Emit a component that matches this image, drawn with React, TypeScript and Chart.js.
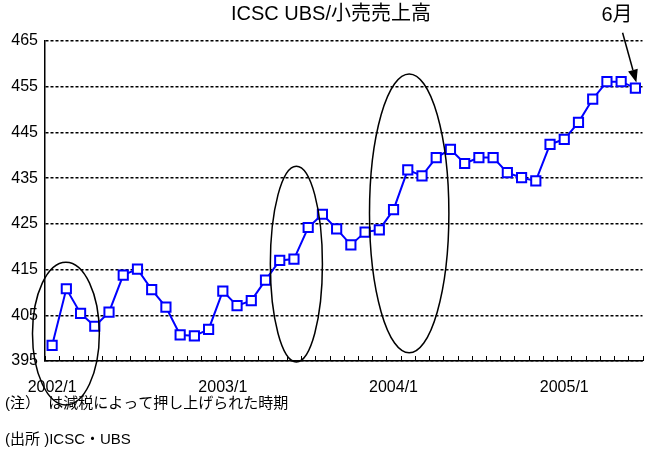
import React, { useEffect, useRef } from "react";
import { Chart, registerables } from "chart.js";

Chart.register(...registerables);

// ---- data ----
const years = [2002, 2003, 2004, 2005];
const monthsPerYear = [12, 12, 12, 6];
const categories: string[] = [];
years.forEach((yr, i) => {
  for (let m = 1; m <= monthsPerYear[i]; m++) categories.push(`${yr}/${m}`);
});

const salesValues = [
  398.4, 410.8, 405.4, 402.6, 405.7, 413.8, 415.1, 410.6, 406.8, 400.7, 400.5, 401.9,
  410.3, 407.1, 408.2, 412.7, 417.0, 417.3, 424.2, 427.1, 423.9, 420.4, 423.2, 423.7,
  428.1, 436.8, 435.5, 439.5, 441.3, 438.2, 439.5, 439.5, 436.2, 435.1, 434.4, 442.4,
  443.5, 447.2, 452.3, 456.1, 456.1, 454.7,
];

const yMin = 395;
const yMax = 465;
const yStep = 10;

const titleText = "ICSC UBS/小売売上高";
const noteText = "(注）  は減税によって押し上げられた時期";
const sourceText = "(出所 )ICSC・UBS";
const arrowLabel = "6月";

// tax-cut highlight periods (ellipses), in month-index / value units
const highlightCenterIdx = [0.97, 17.17, 25.1];
const highlightHalfMonths = [2.35, 1.83, 2.79];
const highlightCenterVal = [401.0, 416.2, 427.3];
const highlightHalfVal = [15.6, 21.4, 30.5];

// arrow pointing at latest month
const arrowStart = { idx: 40.1, val: 466.8 };
const arrowEnd = { idx: 41.07, val: 455.9 };

const FONT = '"Liberation Sans", Arial, "Noto Sans CJK JP", sans-serif';

const overlayPlugin = {
  id: "overlay",
  afterDraw(chart: any) {
    const ctx = chart.ctx as CanvasRenderingContext2D;
    const xs = chart.scales.x;
    const ys = chart.scales.y;
    ctx.save();

    // x-axis tick marks (inside)
    ctx.strokeStyle = "#000";
    ctx.lineWidth = 1;
    for (let i = 0; i <= categories.length; i++) {
      const px = Math.round(xs.getPixelForValue(i - 0.5)) + 0.5;
      ctx.beginPath();
      ctx.moveTo(px, ys.bottom);
      ctx.lineTo(px, ys.bottom - 5);
      ctx.stroke();
    }

    // ellipses
    ctx.lineWidth = 1.5;
    for (let i = 0; i < highlightCenterIdx.length; i++) {
      const cx = xs.getPixelForValue(highlightCenterIdx[i]);
      const rx = Math.abs(xs.getPixelForValue(highlightCenterIdx[i] + highlightHalfMonths[i]) - cx);
      const cy = ys.getPixelForValue(highlightCenterVal[i]);
      const ry = Math.abs(ys.getPixelForValue(highlightCenterVal[i] + highlightHalfVal[i]) - cy);
      ctx.beginPath();
      ctx.ellipse(cx, cy, rx, ry, 0, 0, Math.PI * 2);
      ctx.stroke();
    }

    // arrow
    const x1 = xs.getPixelForValue(arrowStart.idx);
    const y1 = ys.getPixelForValue(arrowStart.val);
    const x2 = xs.getPixelForValue(arrowEnd.idx);
    const y2 = ys.getPixelForValue(arrowEnd.val);
    const ang = Math.atan2(y2 - y1, x2 - x1);
    const headLen = 13;
    const headW = 5;
    const bx = x2 - headLen * Math.cos(ang);
    const by = y2 - headLen * Math.sin(ang);
    ctx.lineWidth = 1.5;
    ctx.beginPath();
    ctx.moveTo(x1, y1);
    ctx.lineTo(bx, by);
    ctx.stroke();
    ctx.fillStyle = "#000";
    ctx.beginPath();
    ctx.moveTo(x2, y2);
    ctx.lineTo(bx + headW * Math.sin(ang), by - headW * Math.cos(ang));
    ctx.lineTo(bx - headW * Math.sin(ang), by + headW * Math.cos(ang));
    ctx.closePath();
    ctx.fill();

    // texts
    ctx.fillStyle = "#000";
    ctx.textBaseline = "middle";
    ctx.textAlign = "center";
    ctx.font = `20px ${FONT}`;
    ctx.fillText(titleText, 331, 14);
    ctx.fillText(arrowLabel, 617, 15);
    ctx.textAlign = "left";
    ctx.font = `15px ${FONT}`;
    ctx.fillText(noteText, 5, 404);
    ctx.fillText(sourceText, 5, 440);

    ctx.restore();
  },
};

export default function App() {
  const canvasRef = useRef<HTMLCanvasElement | null>(null);

  useEffect(() => {
    if (!canvasRef.current) return;
    const chart = new Chart(canvasRef.current, {
      type: "line",
      data: {
        labels: categories,
        datasets: [
          {
            data: salesValues,
            borderColor: "#0000FF",
            borderWidth: 2,
            pointStyle: "rect",
            pointRadius: 6.5,
            pointBorderWidth: 2,
            pointBorderColor: "#0000FF",
            pointBackgroundColor: "#FFFFFF",
            tension: 0,
          },
        ],
      },
      options: {
        responsive: false,
        animation: false,
        devicePixelRatio: 1,
        layout: { padding: { top: 41, right: 6, left: 0, bottom: 0 } },
        plugins: {
          legend: { display: false },
          tooltip: { enabled: false },
          title: { display: false },
        },
        scales: {
          x: {
            type: "category",
            offset: true,
            grid: { display: false },
            border: { display: true, color: "#000", width: 1.5 },
            ticks: {
              autoSkip: false,
              maxRotation: 0,
              minRotation: 0,
              padding: 9,
              color: "#000",
              font: { family: FONT, size: 16 },
              callback: (_v: any, idx: number) =>
                categories[idx].endsWith("/1") ? categories[idx] : "",
            },
            afterFit: (scale: any) => {
              scale.height = 94;
            },
          },
          y: {
            min: yMin,
            max: yMax,
            grid: { color: "#000", lineWidth: 1.5, drawTicks: false },
            border: { display: true, color: "#000", width: 1.5, dash: [3, 2] },
            ticks: {
              stepSize: yStep,
              padding: 7,
              color: "#000",
              font: { family: FONT, size: 16 },
            },
            afterFit: (scale: any) => {
              scale.width = 45;
            },
          },
        },
      },
      plugins: [overlayPlugin],
    });
    return () => chart.destroy();
  }, []);

  return (
    <div
      style={{
        position: "fixed",
        left: 0,
        top: 0,
        width: 651,
        height: 455,
        background: "#fff",
      }}
    >
      <canvas ref={canvasRef} width={651} height={455} />
    </div>
  );
}
